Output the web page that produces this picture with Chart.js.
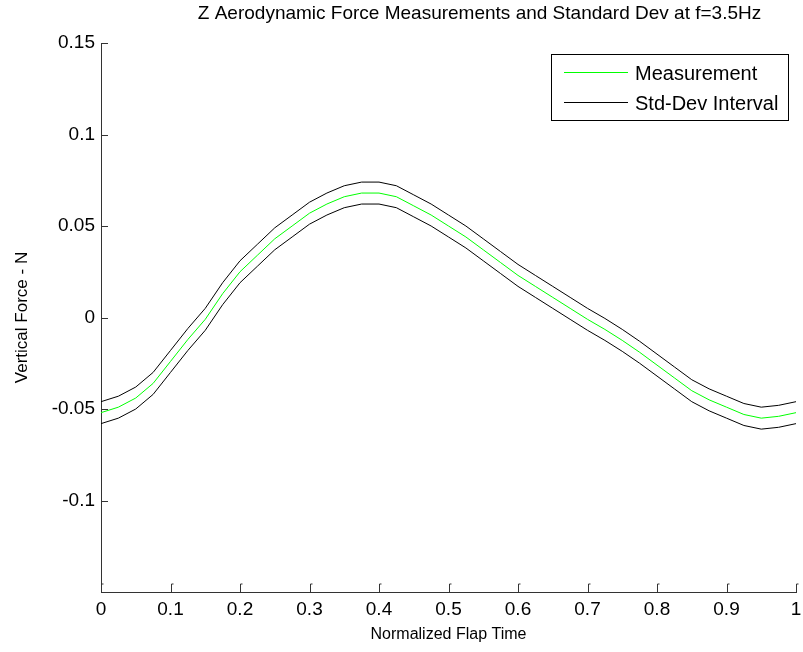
<!DOCTYPE html>
<html lang="en">
<head>
<meta charset="UTF-8">
<title>Z Aerodynamic Force Measurements</title>
<script src="https://cdn.jsdelivr.net/npm/chart.js@4"></script>
<style>
  html, body { margin: 0; padding: 0; background: #fff; }
  #forceChart { display: block; }
</style>
</head>
<body>
<canvas id="forceChart" width="803" height="652"></canvas>
<script>
// normalized flap time (x)
const flapTime = [
  0, 0.025, 0.05, 0.075, 0.1, 0.125, 0.15, 0.175, 0.2, 0.225,
  0.25, 0.275, 0.3, 0.325, 0.35, 0.375, 0.4, 0.425, 0.45, 0.475,
  0.5, 0.525, 0.55, 0.575, 0.6, 0.625, 0.65, 0.675, 0.7, 0.725,
  0.75, 0.775, 0.8, 0.825, 0.85, 0.875, 0.9, 0.925, 0.95, 0.975, 1
];

// mean vertical force (N)
const measurement = [
  -0.052, -0.049, -0.044, -0.036, -0.024, -0.012, -0.001, 0.013, 0.025, 0.034,
  0.043, 0.050, 0.057, 0.062, 0.066, 0.068, 0.068, 0.066, 0.061, 0.056,
  0.050, 0.044, 0.037, 0.030, 0.023, 0.017, 0.011, 0.005, -0.001, -0.0065,
  -0.0125, -0.019, -0.026, -0.033, -0.040, -0.045, -0.049, -0.053, -0.055, -0.054, -0.052
];

// std-dev interval, upper and lower edge
const stdUpper = [
  -0.046, -0.043, -0.038, -0.030, -0.018, -0.006, 0.005, 0.019, 0.031, 0.040,
  0.049, 0.056, 0.063, 0.068, 0.072, 0.074, 0.074, 0.072, 0.067, 0.062,
  0.056, 0.050, 0.043, 0.036, 0.029, 0.023, 0.017, 0.011, 0.005, -0.0005,
  -0.0065, -0.013, -0.020, -0.027, -0.034, -0.039, -0.043, -0.047, -0.049, -0.048, -0.046
];
const stdLower = [
  -0.058, -0.055, -0.050, -0.042, -0.030, -0.018, -0.007, 0.007, 0.019, 0.028,
  0.037, 0.044, 0.051, 0.056, 0.060, 0.062, 0.062, 0.060, 0.055, 0.050,
  0.044, 0.038, 0.031, 0.024, 0.017, 0.011, 0.005, -0.001, -0.007, -0.0125,
  -0.0185, -0.025, -0.032, -0.039, -0.046, -0.051, -0.055, -0.059, -0.061, -0.060, -0.058
];

const xTicks = [0, 0.1, 0.2, 0.3, 0.4, 0.5, 0.6, 0.7, 0.8, 0.9, 1];
const yTicks = [-0.1, -0.05, 0, 0.05, 0.1, 0.15];

const chartTitle = 'Z Aerodynamic Force Measurements and Standard Dev at f=3.5Hz';
const fontFamily = '"Liberation Sans", Arial, Helvetica, sans-serif';
const axisColor = '#333';

function toPoints(values) {
  return flapTime.map((t, i) => ({ x: t, y: values[i] }));
}

// title sits a bit right of the axes centre, like the original figure
const figureTitle = {
  id: 'figureTitle',
  afterDraw(chart) {
    const { ctx, chartArea } = chart;
    ctx.save();
    ctx.font = '19px ' + fontFamily;
    ctx.fillStyle = '#000';
    ctx.textAlign = 'center';
    ctx.textBaseline = 'middle';
    ctx.fillText(chartTitle, (chartArea.left + chartArea.right) / 2 + 31, 14);
    ctx.restore();
  }
};

// matlab style ticks pointing into the plot
const inwardTicks = {
  id: 'inwardTicks',
  afterDraw(chart) {
    const { ctx, chartArea, scales: { x, y } } = chart;
    ctx.save();
    ctx.strokeStyle = axisColor;
    ctx.lineWidth = 1;
    ctx.beginPath();
    x.ticks.forEach(t => {
      const px = Math.round(x.getPixelForValue(t.value)) + 0.5;
      ctx.moveTo(px, chartArea.bottom);
      ctx.lineTo(px, chartArea.bottom - 8);
      ctx.lineTo(px + 2, chartArea.bottom - 8);
    });
    y.ticks.forEach(t => {
      const py = Math.round(y.getPixelForValue(t.value)) + 0.5;
      ctx.moveTo(chartArea.left, py);
      ctx.lineTo(chartArea.left + 7, py);
    });
    ctx.stroke();
    ctx.restore();
  }
};

// boxed legend in the top right corner
const boxLegend = {
  id: 'boxLegend',
  afterDraw(chart) {
    const { ctx } = chart;
    const items = chart.data.datasets.filter(ds => ds.inLegend);
    ctx.save();
    ctx.fillStyle = '#fff';
    ctx.fillRect(551.5, 54.5, 237, 66);
    ctx.strokeStyle = '#000';
    ctx.lineWidth = 1;
    ctx.strokeRect(551.5, 54.5, 237, 66);
    ctx.font = '20px ' + fontFamily;
    ctx.textBaseline = 'middle';
    items.forEach((ds, i) => {
      const ly = 72 + i * 30;
      ctx.strokeStyle = ds.borderColor;
      ctx.beginPath();
      ctx.moveTo(564, ly + 0.5);
      ctx.lineTo(628, ly + 0.5);
      ctx.stroke();
      ctx.fillStyle = '#000';
      ctx.fillText(ds.label, 635, ly + 2);
    });
    ctx.restore();
  }
};

new Chart(document.getElementById('forceChart'), {
  type: 'line',
  data: {
    datasets: [
      { label: 'Measurement', data: toPoints(measurement), borderColor: '#00ff00', inLegend: true },
      { label: 'Std-Dev Interval', data: toPoints(stdUpper), borderColor: '#000000', inLegend: true },
      { label: 'Std-Dev Interval', data: toPoints(stdLower), borderColor: '#000000', inLegend: false }
    ]
  },
  options: {
    responsive: false,
    animation: false,
    devicePixelRatio: 1,
    layout: { padding: { top: 43, right: 0, bottom: 0, left: 0 } },
    elements: {
      point: { radius: 0 },
      line: { borderWidth: 1, tension: 0, fill: false }
    },
    plugins: {
      legend: { display: false },
      tooltip: { enabled: false },
      title: { display: false }
    },
    scales: {
      x: {
        type: 'linear',
        min: 0,
        max: 1,
        afterBuildTicks: s => { s.ticks = xTicks.map(v => ({ value: v })); },
        afterFit: s => { s.height = 60; s.paddingLeft = 0; s.paddingRight = 7; },
        grid: { display: false, drawTicks: false },
        border: { display: true, color: axisColor, width: 1 },
        ticks: {
          color: '#000',
          font: { family: fontFamily, size: 19 },
          padding: 6,
          maxRotation: 0,
          callback: v => String(v)
        },
        title: {
          display: true,
          text: 'Normalized Flap Time',
          color: '#000',
          font: { family: fontFamily, size: 16 },
          padding: { top: 0, bottom: 8 }
        }
      },
      y: {
        min: -0.15,
        max: 0.15,
        afterBuildTicks: s => { s.ticks = yTicks.map(v => ({ value: v })); },
        afterFit: s => { s.width = 101; },
        grid: { display: false, drawTicks: false },
        border: { display: true, color: axisColor, width: 1 },
        ticks: {
          color: '#000',
          font: { family: fontFamily, size: 19 },
          padding: 6,
          callback: v => String(v)
        },
        title: {
          display: true,
          text: 'Vertical Force - N',
          color: '#000',
          font: { family: fontFamily, size: 17 },
          padding: { top: 12, bottom: 0 }
        }
      }
    }
  },
  plugins: [figureTitle, inwardTicks, boxLegend]
});
</script>
</body>
</html>
